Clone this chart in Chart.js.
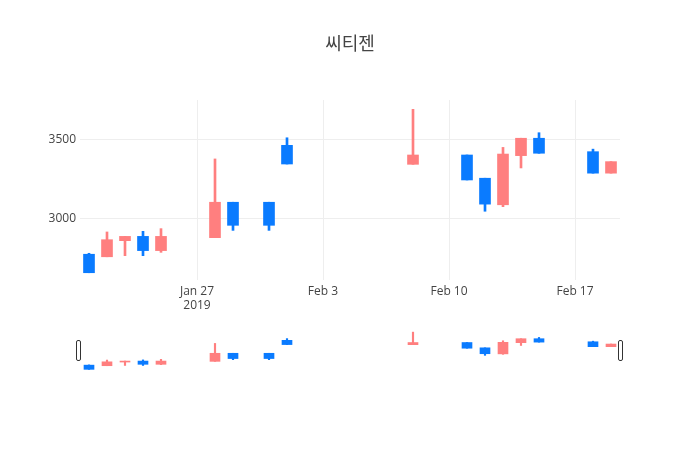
<!DOCTYPE html>
<html>
<head>
<meta charset="utf-8">
<script src="https://cdn.jsdelivr.net/npm/chart.js@4/dist/chart.umd.min.js"></script>
<style>
  html, body { margin: 0; padding: 0; background: #fff; }
  #wrap { position: relative; width: 700px; height: 450px; }
  #main { position: absolute; left: 0; top: 0; }
  #slider { position: absolute; left: 0; top: 330px; }
</style>
</head>
<body>
<div id="wrap">
  <canvas id="main" width="700" height="450"></canvas>
  <canvas id="slider" width="700" height="41"></canvas>
</div>
<script>
// calendar days Jan 21 - Feb 19 2019, and the days that have a candle
var days = ['Jan 21', 'Jan 22', 'Jan 23', 'Jan 24', 'Jan 25', 'Jan 26', 'Jan 27', 'Jan 28', 'Jan 29', 'Jan 30',
  'Jan 31', 'Feb 1', 'Feb 2', 'Feb 3', 'Feb 4', 'Feb 5', 'Feb 6', 'Feb 7', 'Feb 8', 'Feb 9',
  'Feb 10', 'Feb 11', 'Feb 12', 'Feb 13', 'Feb 14', 'Feb 15', 'Feb 16', 'Feb 17', 'Feb 18', 'Feb 19'];
var tradeDays = ['Jan 21', 'Jan 22', 'Jan 23', 'Jan 24', 'Jan 25', 'Jan 28', 'Jan 29', 'Jan 31', 'Feb 1',
  'Feb 8', 'Feb 11', 'Feb 12', 'Feb 13', 'Feb 14', 'Feb 15', 'Feb 18', 'Feb 19'];
var openVals  = [2777, 2761, 2863, 2890, 2800, 2882, 3106, 3106, 3466, 3346, 3405, 3258, 3090, 3401, 3511, 3426, 3290];
var highVals  = [2783, 2918, 2890, 2922, 2939, 3380, 3106, 3106, 3514, 3694, 3405, 3258, 3453, 3511, 3546, 3442, 3363];
var lowVals   = [2660, 2761, 2768, 2768, 2789, 2882, 2928, 2928, 3348, 3346, 3247, 3049, 3078, 3323, 3416, 3290, 3290];
var closeVals = [2660, 2869, 2890, 2800, 2890, 3106, 2960, 2960, 3348, 3405, 3247, 3094, 3411, 3511, 3416, 3290, 3363];
var tickDays = { 'Jan 27': ['Jan 27', '2019'], 'Feb 3': 'Feb 3', 'Feb 10': 'Feb 10', 'Feb 17': 'Feb 17' };
var yTicks = [3000, 3500];
var titleText = '씨티젠';

var upColor = '#ff7f7f';
var downColor = '#0a7bff';

function candleColor(ctx) {
  var i = ctx.dataIndex;
  return closeVals[i] >= openVals[i] ? upColor : downColor;
}

var wickData = [];
var bodyData = [];
for (var i = 0; i < tradeDays.length; i++) {
  wickData.push({ x: tradeDays[i], y: [lowVals[i], highVals[i]] });
  bodyData.push({ x: tradeDays[i], y: [openVals[i], closeVals[i]] });
}

function datasets(bodyW, wickW) {
  return [{
    data: bodyData,
    backgroundColor: candleColor,
    barThickness: bodyW,
    grouped: false,
    order: 1
  }, {
    data: wickData,
    backgroundColor: candleColor,
    barThickness: wickW,
    grouped: false,
    order: 2
  }];
}

Chart.defaults.font.family = '"Open Sans", "Noto Sans CJK KR", sans-serif';
Chart.defaults.color = '#444';
Chart.defaults.animation = false;

// title centred on the whole page, not the plot area
var pageTitle = {
  id: 'pageTitle',
  afterDraw: function (chart) {
    var c = chart.ctx;
    c.save();
    c.font = '18px "Noto Sans CJK KR", "Open Sans", sans-serif';
    c.fillStyle = '#444';
    c.textAlign = 'center';
    c.textBaseline = 'middle';
    c.fillText(titleText, chart.width / 2, 43);
    c.restore();
  }
};

new Chart(document.getElementById('main').getContext('2d'), {
  type: 'bar',
  data: { labels: days, datasets: datasets(11, 2) },
  plugins: [pageTitle],
  options: {
    responsive: false,
    layout: { padding: { left: 0, right: 80, top: 100, bottom: 130 } },
    plugins: {
      legend: { display: false },
      tooltip: { enabled: false },
      title: { display: false }
    },
    scales: {
      x: {
        offset: true,
        grid: {
          offset: false,
          drawTicks: false,
          color: function (ctx) {
            return ctx.tick && tickDays[days[ctx.index]] ? '#eee' : 'rgba(0,0,0,0)';
          }
        },
        border: { display: false },
        ticks: {
          autoSkip: false,
          maxRotation: 0,
          padding: 4,
          font: { size: 12 },
          callback: function (v, idx) {
            return tickDays[days[idx]] || '';
          }
        },
        afterFit: function (scale) { scale.height = 40; }
      },
      y: {
        min: 2614,
        max: 3753,
        grid: { color: '#eee', drawTicks: false },
        border: { display: false },
        ticks: {
          padding: 4,
          font: { size: 12 },
          callback: function (v) { return String(v); }
        },
        afterBuildTicks: function (scale) {
          scale.ticks = yTicks.map(function (v) { return { value: v }; });
        },
        afterFit: function (scale) { scale.width = 80; }
      }
    }
  }
});

// range slider handles
var handlesPlugin = {
  id: 'handles',
  afterDraw: function (chart) {
    var c = chart.ctx;
    var a = chart.chartArea;
    var mid = (a.top + a.bottom) / 2;
    [a.left - 1, a.right + 1].forEach(function (x) {
      c.save();
      c.beginPath();
      c.roundRect(x - 2.5, mid - 10, 4, 20, 1.5);
      c.fillStyle = '#fff';
      c.fill();
      c.strokeStyle = '#333';
      c.lineWidth = 1;
      c.stroke();
      c.restore();
    });
  }
};

new Chart(document.getElementById('slider').getContext('2d'), {
  type: 'bar',
  data: { labels: days, datasets: datasets(10, 1.5) },
  plugins: [handlesPlugin],
  options: {
    responsive: false,
    layout: { padding: { left: 80, right: 80, top: 0, bottom: 0 } },
    plugins: { legend: { display: false }, tooltip: { enabled: false } },
    scales: {
      x: { display: false, offset: true },
      y: { display: false, min: 2614, max: 3753 }
    }
  }
});
</script>
</body>
</html>
